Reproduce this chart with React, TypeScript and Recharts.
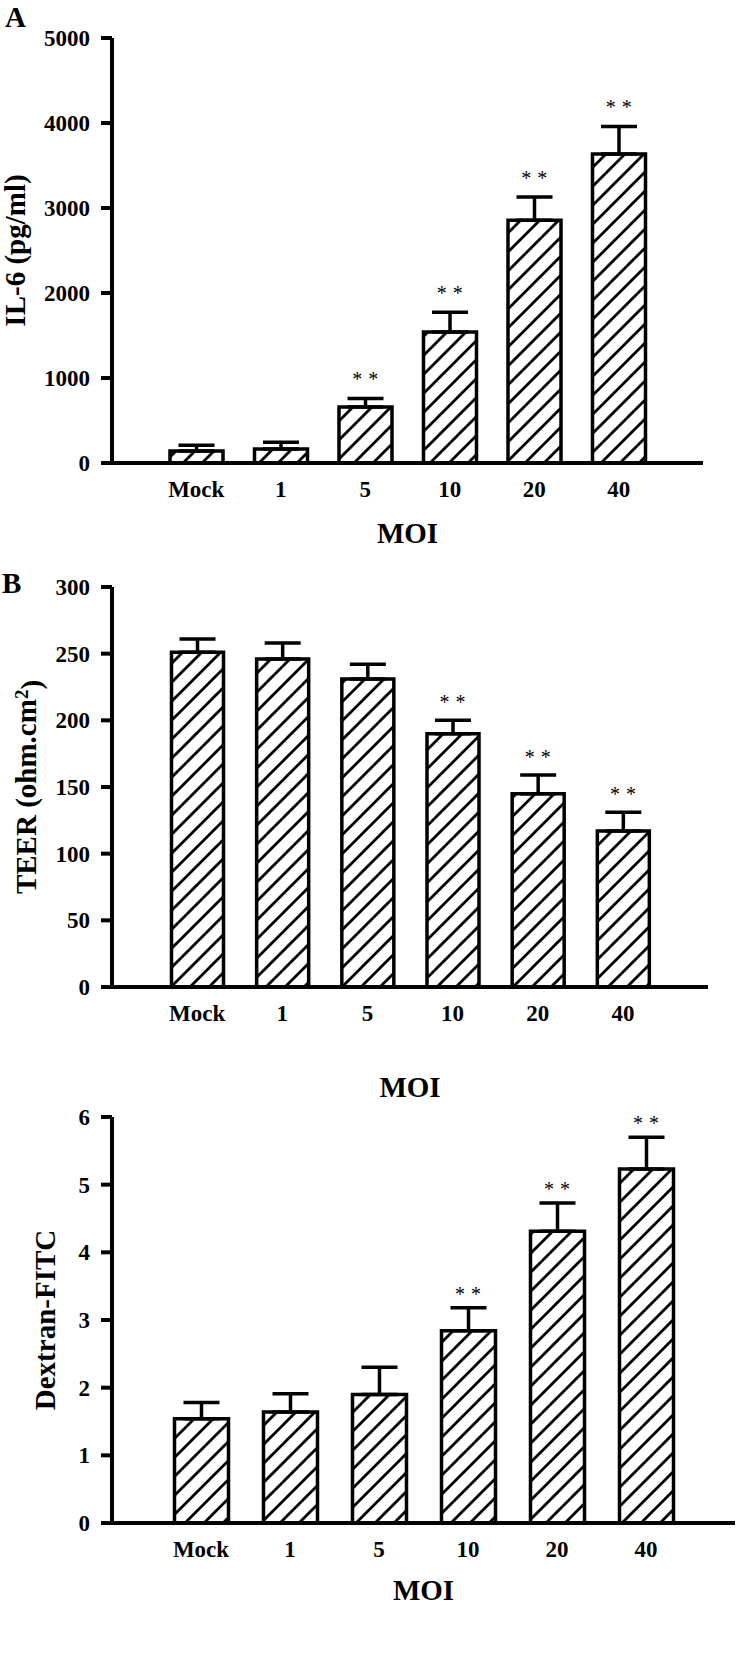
import React from "react";
import {
  Bar,
  ComposedChart,
  ErrorBar,
  Label,
  LabelList,
  Line,
  XAxis,
  YAxis,
} from "recharts";

const FONT = '"Liberation Serif", "Times New Roman", Times, serif';

const moiLabels = ["Mock", "1", "5", "10", "20", "40"];

// A: IL-6 (pg/ml)
const il6Values = [140, 165, 660, 1540, 2855, 3635];
const il6Errors = [70, 80, 100, 235, 275, 325];
const il6Stars = ["", "", "**", "**", "**", "**"];
const il6Ticks = [0, 1000, 2000, 3000, 4000, 5000];

// B: TEER
const teerValues = [251, 246, 231, 190, 145, 117];
const teerErrors = [10, 12, 11, 10, 14, 14];
const teerStars = ["", "", "", "**", "**", "**"];
const teerTicks = [0, 50, 100, 150, 200, 250, 300];

// C: Dextran-FITC
const dexValues = [1.54, 1.64, 1.9, 2.84, 4.31, 5.23];
const dexErrors = [0.24, 0.27, 0.4, 0.34, 0.42, 0.47];
const dexStars = ["", "", "", "**", "**", "**"];
const dexTicks = [0, 1, 2, 3, 4, 5, 6];

type PanelProps = {
  id: string;
  values: number[];
  errors: number[];
  stars: string[];
  ticks: number[];
  yLabel: string;
  yLabelSup?: string;
  yLabelX: number;
  top: number;
  height: number;
  marginTop: number;
  marginRight: number;
  marginBottom: number;
  xAxisHeight: number;
  pad: number;
  barSize: number;
  starGap: number;
};

const tickStyle = { fill: "#000", fontSize: 23, fontWeight: "bold", fontFamily: FONT };

function Panel(p: PanelProps) {
  const data = moiLabels.map((moi, i) => ({
    moi,
    value: p.values[i],
    err: [0, p.errors[i]],
    top: p.values[i] + p.errors[i],
    sig: p.stars[i],
  }));

  const renderYLabel = (props: any) => {
    const vb = props.viewBox || {};
    const cx = vb.x + p.yLabelX;
    const cy = vb.y + vb.height / 2;
    return (
      <text
        x={cx}
        y={cy}
        dy="0.35em"
        transform={`rotate(-90, ${cx}, ${cy})`}
        textAnchor="middle"
        fontFamily={FONT}
        fontWeight="bold"
        fontSize={29}
        fill="#000"
      >
        {p.yLabel}
        {p.yLabelSup ? (
          <>
            <tspan dy="-0.45em" fontSize={19}>
              {p.yLabelSup}
            </tspan>
            <tspan dy="0.45em">)</tspan>
          </>
        ) : null}
      </text>
    );
  };

  // one asterisk per mark, spread apart like the original "*  *"
  const renderStars = (props: any) => {
    const { x, y, value } = props;
    if (!value) return null;
    const marks = String(value).split("");
    const step = 16;
    const start = x - ((marks.length - 1) * step) / 2;
    return (
      <g>
        {marks.map((m, k) => (
          <text
            key={k}
            x={start + k * step}
            y={y - p.starGap + 10}
            textAnchor="middle"
            fontFamily={FONT}
            fontSize={20}
            fill="#000"
          >
            {m}
          </text>
        ))}
      </g>
    );
  };

  return (
    <div style={{ position: "absolute", left: 0, top: p.top }}>
      <ComposedChart
        width={740}
        height={p.height}
        data={data}
        margin={{ top: p.marginTop, right: p.marginRight, bottom: p.marginBottom, left: 0 }}
      >
        <defs>
          <pattern id={p.id} patternUnits="userSpaceOnUse" width={19} height={19}>
            <rect width={19} height={19} fill="#fff" />
            <path
              d="M0,19 L19,0 M-3,3 L3,-3 M16,22 L22,16"
              stroke="#000"
              strokeWidth={2.8}
            />
          </pattern>
        </defs>
        <XAxis
          dataKey="moi"
          height={p.xAxisHeight}
          padding={{ left: p.pad, right: p.pad }}
          axisLine={{ stroke: "#000", strokeWidth: 4 }}
          tickLine={false}
          tickSize={0}
          tickMargin={18}
          tick={tickStyle}
          interval={0}
        >
          <Label
            value="MOI"
            position="insideBottom"
            offset={0}
            fill="#000"
            fontSize={29}
            fontWeight="bold"
            fontFamily={FONT}
          />
        </XAxis>
        <YAxis
          width={112}
          domain={[p.ticks[0], p.ticks[p.ticks.length - 1]]}
          ticks={p.ticks}
          interval={0}
          axisLine={{ stroke: "#000", strokeWidth: 4 }}
          tickLine={{ stroke: "#000", strokeWidth: 4 }}
          tickSize={11}
          tickMargin={11}
          tick={tickStyle}
        >
          <Label content={renderYLabel} />
        </YAxis>
        <Bar
          dataKey="value"
          barSize={p.barSize}
          fill={`url(#${p.id})`}
          stroke="#000"
          strokeWidth={3.5}
          isAnimationActive={false}
        >
          <ErrorBar dataKey="err" width={18} strokeWidth={3.5} stroke="#000" direction="y" />
        </Bar>
        <Line
          dataKey="top"
          stroke="none"
          dot={false}
          activeDot={false}
          isAnimationActive={false}
        >
          <LabelList dataKey="sig" content={renderStars} />
        </Line>
      </ComposedChart>
    </div>
  );
}

export default function App() {
  return (
    <div style={{ position: "absolute", left: 0, top: 0, width: 740, height: 1656, background: "#fff" }}>
      <Panel
        id="hatchA"
        values={il6Values}
        errors={il6Errors}
        stars={il6Stars}
        ticks={il6Ticks}
        yLabel="IL-6 (pg/ml)"
        yLabelX={15}
        top={0}
        height={550}
        marginTop={38}
        marginRight={37}
        marginBottom={7}
        xAxisHeight={80}
        pad={42}
        barSize={53}
        starGap={22}
      />
      <Panel
        id="hatchB"
        values={teerValues}
        errors={teerErrors}
        stars={teerStars}
        ticks={teerTicks}
        yLabel="TEER (ohm.cm"
        yLabelSup="2"
        yLabelX={26}
        top={550}
        height={560}
        marginTop={37}
        marginRight={32}
        marginBottom={13}
        xAxisHeight={110}
        pad={42.5}
        barSize={52}
        starGap={21}
      />
      <Panel
        id="hatchC"
        values={dexValues}
        errors={dexErrors}
        stars={dexStars}
        ticks={dexTicks}
        yLabel="Dextran-FITC"
        yLabelX={45}
        top={1100}
        height={556}
        marginTop={17}
        marginRight={5}
        marginBottom={56}
        xAxisHeight={77}
        pad={44.5}
        barSize={54}
        starGap={17}
      />
      <svg
        width={740}
        height={1656}
        style={{ position: "absolute", left: 0, top: 0, pointerEvents: "none" }}
      >
        <text x={5} y={27} fontFamily={FONT} fontWeight="bold" fontSize={29} fill="#000">
          A
        </text>
        <text x={2} y={593} fontFamily={FONT} fontWeight="bold" fontSize={29} fill="#000">
          B
        </text>
      </svg>
    </div>
  );
}
